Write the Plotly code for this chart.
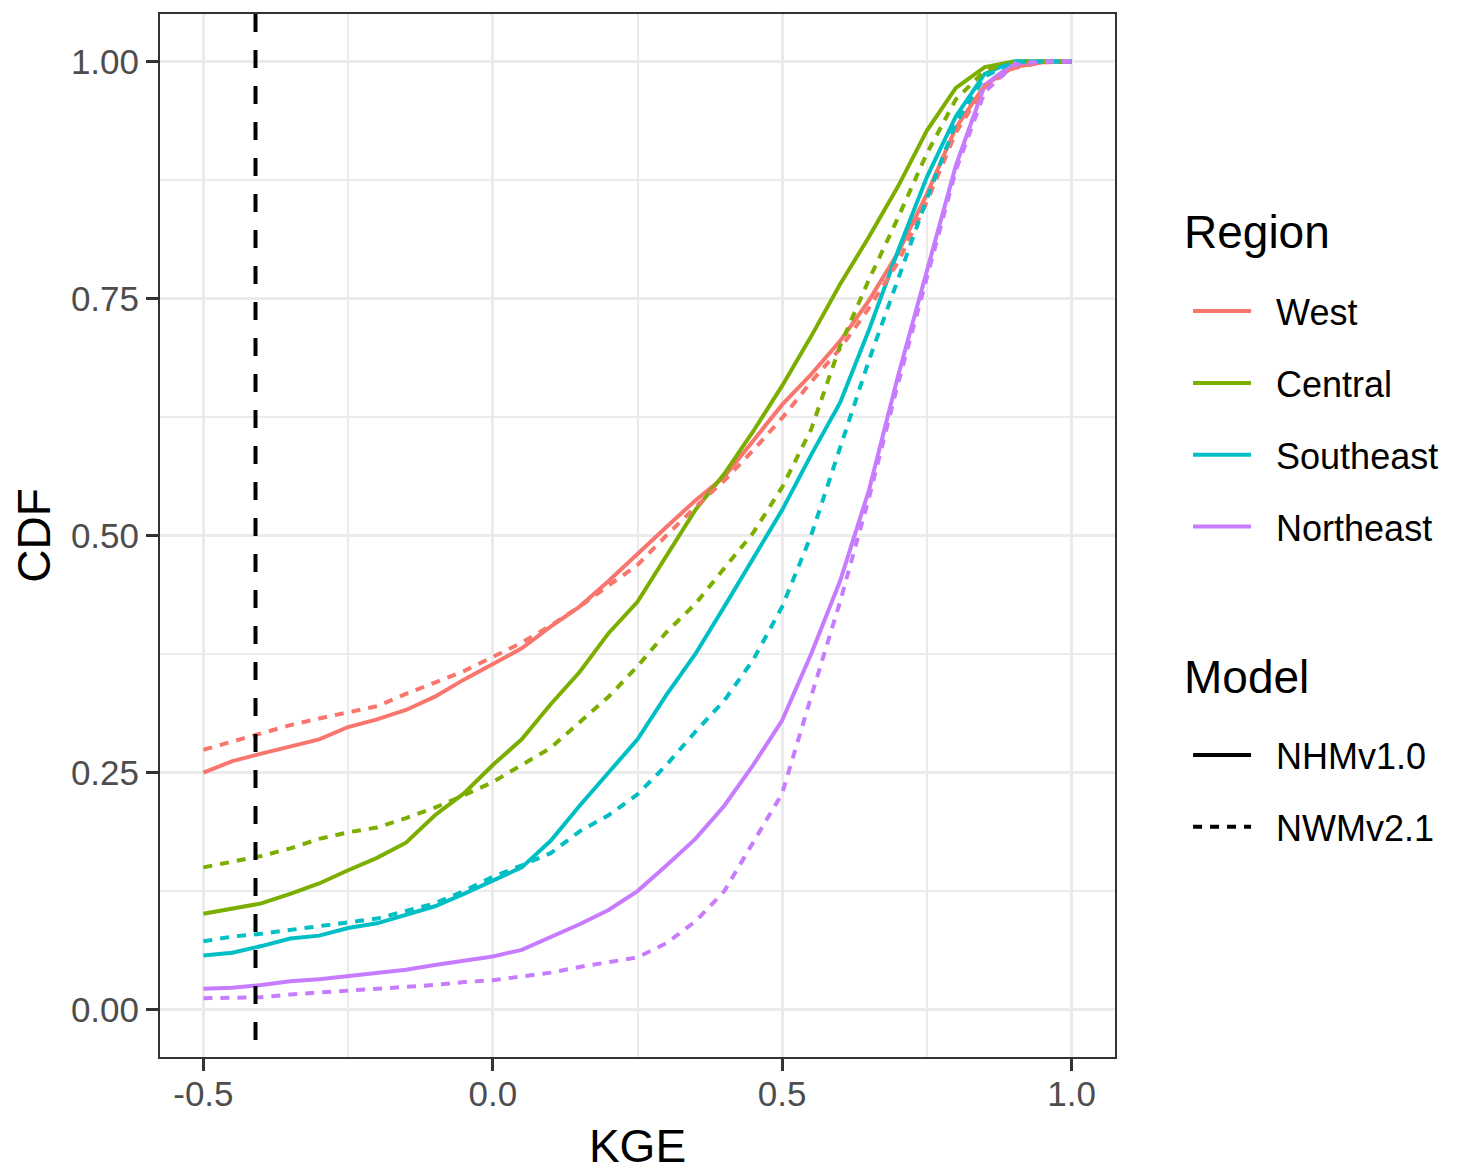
import plotly.graph_objects as go

# KGE grid the CDF curves were read at
kge = [-0.5, -0.45, -0.4, -0.35, -0.3, -0.25, -0.2, -0.15, -0.1, -0.05,
       0.0, 0.05, 0.1, 0.15, 0.2, 0.25, 0.3, 0.35, 0.4, 0.45,
       0.5, 0.55, 0.6, 0.65, 0.7, 0.75, 0.8, 0.85, 0.9, 0.95, 1.0]

regions = ["West", "Central", "Southeast", "Northeast"]
models = ["NHMv1.0", "NWMv2.1"]
region_colors = ["#F8766D", "#7CAE00", "#00BFC4", "#C77CFF"]

west_nhm = [0.250, 0.262, 0.270, 0.277, 0.285, 0.298, 0.306, 0.316, 0.330, 0.348,
            0.364, 0.381, 0.404, 0.425, 0.452, 0.481, 0.509, 0.537, 0.562, 0.600,
            0.638, 0.670, 0.705, 0.748, 0.798, 0.860, 0.930, 0.975, 0.994, 0.999, 1.0]
west_nwm = [0.274, 0.283, 0.292, 0.300, 0.307, 0.313, 0.320, 0.333, 0.345, 0.357,
            0.372, 0.387, 0.405, 0.425, 0.447, 0.469, 0.500, 0.530, 0.558, 0.590,
            0.624, 0.662, 0.697, 0.740, 0.788, 0.852, 0.925, 0.973, 0.993, 0.999, 1.0]
central_nhm = [0.101, 0.107, 0.112, 0.122, 0.133, 0.147, 0.160, 0.176, 0.205, 0.228,
               0.258, 0.285, 0.322, 0.356, 0.397, 0.430, 0.478, 0.527, 0.565, 0.610,
               0.658, 0.710, 0.765, 0.815, 0.868, 0.927, 0.972, 0.994, 1.0, 1.0, 1.0]
central_nwm = [0.150, 0.156, 0.162, 0.170, 0.180, 0.187, 0.192, 0.202, 0.213, 0.226,
               0.240, 0.258, 0.276, 0.303, 0.330, 0.362, 0.398, 0.428, 0.466, 0.503,
               0.551, 0.612, 0.700, 0.770, 0.835, 0.903, 0.960, 0.990, 1.0, 1.0, 1.0]
southeast_nhm = [0.057, 0.060, 0.067, 0.075, 0.078, 0.086, 0.091, 0.100, 0.109, 0.122,
                 0.136, 0.150, 0.178, 0.215, 0.250, 0.285, 0.332, 0.375, 0.425, 0.476,
                 0.527, 0.585, 0.640, 0.717, 0.800, 0.878, 0.942, 0.987, 1.0, 1.0, 1.0]
southeast_nwm = [0.072, 0.077, 0.080, 0.084, 0.088, 0.093, 0.096, 0.104, 0.112, 0.125,
                 0.140, 0.152, 0.165, 0.188, 0.205, 0.227, 0.258, 0.293, 0.326, 0.369,
                 0.425, 0.500, 0.593, 0.685, 0.770, 0.855, 0.935, 0.984, 1.0, 1.0, 1.0]
northeast_nhm = [0.022, 0.023, 0.026, 0.030, 0.032, 0.035, 0.038, 0.042, 0.047, 0.051,
                 0.056, 0.063, 0.076, 0.090, 0.105, 0.125, 0.152, 0.180, 0.215, 0.258,
                 0.305, 0.375, 0.452, 0.548, 0.668, 0.780, 0.890, 0.975, 0.998, 1.0, 1.0]
northeast_nwm = [0.012, 0.012, 0.013, 0.016, 0.018, 0.020, 0.022, 0.023, 0.026, 0.029,
                 0.031, 0.035, 0.039, 0.045, 0.050, 0.055, 0.070, 0.093, 0.125, 0.176,
                 0.228, 0.330, 0.430, 0.540, 0.660, 0.772, 0.885, 0.968, 0.996, 1.0, 1.0]

threshold_kge = -0.41

x_ticks = [-0.5, 0.0, 0.5, 1.0]
x_tick_labels = ["-0.5", "0.0", "0.5", "1.0"]
y_ticks = [0.0, 0.25, 0.5, 0.75, 1.0]
y_tick_labels = ["0.00", "0.25", "0.50", "0.75", "1.00"]

FONT = "Liberation Sans, Arial, sans-serif"
PAD = "\u00a0\u00a0"  # spacing between legend key and label
model_dash = {"NHMv1.0": "solid", "NWMv2.1": "9px,8px"}

curves = {
    ("West", "NHMv1.0"): west_nhm, ("West", "NWMv2.1"): west_nwm,
    ("Central", "NHMv1.0"): central_nhm, ("Central", "NWMv2.1"): central_nwm,
    ("Southeast", "NHMv1.0"): southeast_nhm, ("Southeast", "NWMv2.1"): southeast_nwm,
    ("Northeast", "NHMv1.0"): northeast_nhm, ("Northeast", "NWMv2.1"): northeast_nwm,
}

fig = go.Figure()

# data curves (no legend, legend is built from dummy entries below)
for model in models:
    for region, color in zip(regions, region_colors):
        fig.add_trace(go.Scatter(
            x=kge, y=curves[(region, model)], mode="lines",
            line=dict(color=color, width=4, dash=model_dash[model]),
            showlegend=False, hoverinfo="skip",
        ))

# threshold line, drawn top-down so the dash pattern starts at the top
fig.add_shape(type="line", xref="x", yref="paper",
              x0=threshold_kge, x1=threshold_kge, y0=1, y1=0,
              line=dict(color="black", width=4, dash="18px,18px"))

# legend entries
for region, color in zip(regions, region_colors):
    fig.add_trace(go.Scatter(
        x=[None], y=[None], mode="lines", name=PAD + region,
        line=dict(color=color, width=4), legend="legend", legendgroup=region,
    ))
for model in models:
    fig.add_trace(go.Scatter(
        x=[None], y=[None], mode="lines", name=PAD + model,
        line=dict(color="black", width=4, dash=model_dash[model]),
        legend="legend2", legendgroup=model,
    ))

axis_common = dict(
    showline=True, mirror=True, linecolor="#333333", linewidth=2,
    showgrid=True, gridcolor="#EBEBEB", gridwidth=3, zeroline=False,
    ticks="outside", ticklen=12, tickwidth=3, tickcolor="#333333",
    tickfont=dict(family=FONT, size=35, color="#4D4D4D"),
    automargin=False,
)

legend_common = dict(
    bgcolor="rgba(0,0,0,0)", traceorder="grouped", tracegroupgap=22,
    itemwidth=58, font=dict(family=FONT, size=36, color="black"),
    xanchor="left", yanchor="top", itemclick=False, itemdoubleclick=False,
)

# the page body adds an 8px offset, so the figure is drawn 8px smaller
fig.update_layout(
    width=1450, height=1164,
    margin=dict(l=152, r=343, t=6, b=115),
    paper_bgcolor="white", plot_bgcolor="white",
    xaxis=dict(
        range=[-0.575, 1.075], tickvals=x_ticks, ticktext=x_tick_labels,
        minor=dict(dtick=0.25, tick0=-0.5, showgrid=True, gridcolor="#EBEBEB", gridwidth=1.5, ticks=""),
        title=dict(text="KGE", font=dict(family=FONT, size=46, color="black"), standoff=18),
        ticklabelstandoff=-7,
        **axis_common,
    ),
    yaxis=dict(
        range=[-0.05, 1.05], tickvals=y_ticks, ticktext=y_tick_labels,
        minor=dict(dtick=0.125, tick0=0, showgrid=True, gridcolor="#EBEBEB", gridwidth=1.5, ticks=""),
        title=dict(text="CDF", font=dict(family=FONT, size=46, color="black"), standoff=9),
        ticklabelstandoff=0,
        **axis_common,
    ),
    legend=dict(x=1.0765, y=0.7438, **legend_common),
    legend2=dict(x=1.0765, y=0.3183, **legend_common),
    annotations=[
        dict(text="Region", x=1.0705, y=0.7908, xref="paper", yref="paper",
             xanchor="left", yanchor="middle", showarrow=False,
             font=dict(family=FONT, size=46, color="black")),
        dict(text="Model", x=1.0705, y=0.3643, xref="paper", yref="paper",
             xanchor="left", yanchor="middle", showarrow=False,
             font=dict(family=FONT, size=46, color="black")),
    ],
)

fig.write_html("out.html")
